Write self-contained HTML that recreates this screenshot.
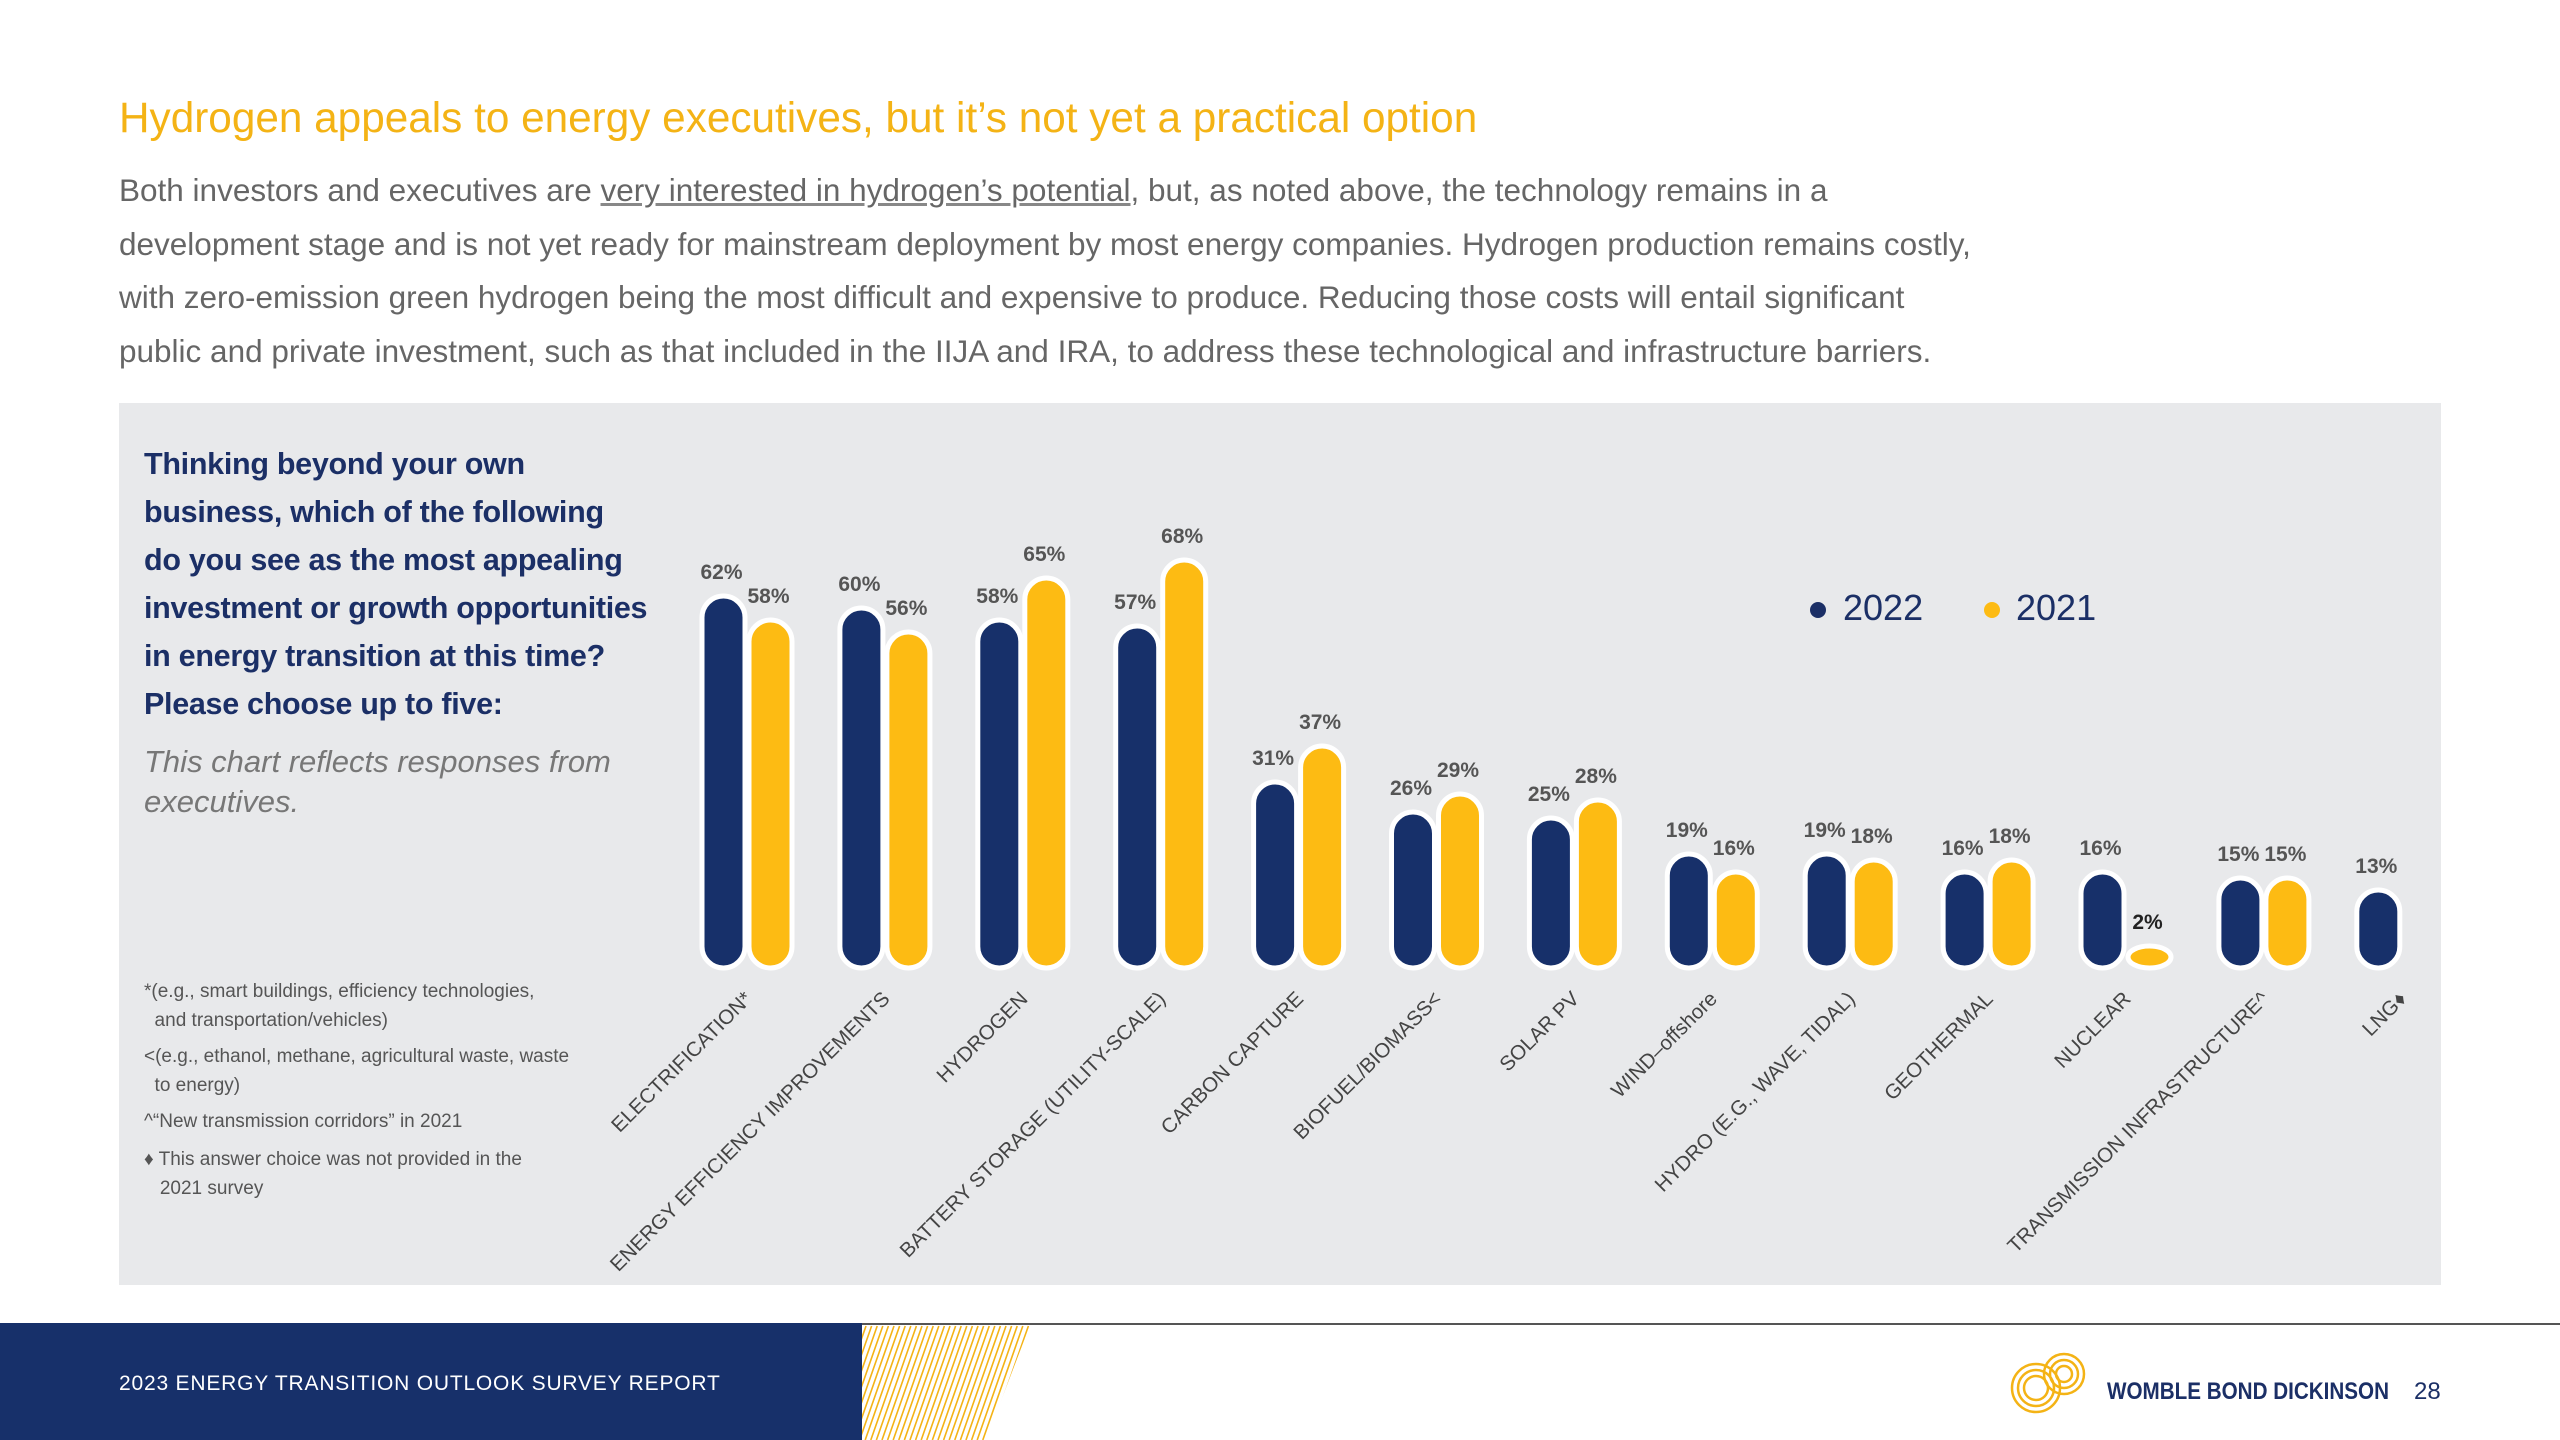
<!DOCTYPE html>
<html><head><meta charset="utf-8">
<style>
html,body{margin:0;padding:0;background:#fff;}
body{width:2560px;height:1440px;overflow:hidden;position:relative;font-family:"Liberation Sans",sans-serif;}
.abs{position:absolute;}
</style></head>
<body>
<div class="abs" style="left:119px;top:94px;font-size:42.3px;color:#F4B315;white-space:nowrap;">Hydrogen appeals to energy executives, but it’s not yet a practical option</div>
<div class="abs" style="left:119px;top:164px;width:2100px;font-size:31.5px;line-height:53.5px;color:#666;white-space:nowrap;">Both investors and executives are <span style="text-decoration:underline;text-decoration-color:#888;">very interested in hydrogen’s potential</span>, but, as noted above, the technology remains in a<br>development stage and is not yet ready for mainstream deployment by most energy companies. Hydrogen production remains costly,<br>with zero-emission green hydrogen being the most difficult and expensive to produce. Reducing those costs will entail significant<br>public and private investment, such as that included in the IIJA and IRA, to address these technological and infrastructure barriers.</div>
<div class="abs" style="left:119px;top:403px;width:2322px;height:882px;background:#E8E9EB;"></div>
<div class="abs" style="left:144px;top:440px;width:560px;font-size:30.5px;line-height:48px;color:#1B2F66;font-weight:bold;letter-spacing:-0.3px;white-space:nowrap;">Thinking beyond your own<br>business, which of the following<br>do you see as the most appealing<br>investment or growth opportunities<br>in energy transition at this time?<br>Please choose up to five:</div>
<div class="abs" style="left:144px;top:742px;width:520px;font-size:31px;line-height:40px;color:#777;font-style:italic;">This chart reflects responses from executives.</div>
<div class="abs" style="left:144px;top:977px;width:460px;font-size:19px;line-height:29px;color:#555;">
<div>*(e.g., smart buildings, efficiency technologies,<br>&nbsp;&nbsp;and transportation/vehicles)</div>
<div style="margin-top:7px">&lt;(e.g., ethanol, methane, agricultural waste, waste<br>&nbsp;&nbsp;to energy)</div>
<div style="margin-top:7px">^“New transmission corridors” in 2021</div>
<div style="margin-top:9px">♦ This answer choice was not provided in the<br>&nbsp;&nbsp;&nbsp;2021 survey</div>
</div>
<svg class="abs" style="left:0;top:0" width="2560" height="1440" id="chart">
<defs><clipPath id="hclip"><polygon points="862,1325 1030,1325 986,1440 862,1440"/></clipPath></defs>
<g id="bars"></g>
<g>
<circle cx="1818" cy="610" r="8" fill="#1B2F66"/>
<text x="1843" y="620" font-size="36" fill="#1B2F66">2022</text>
<circle cx="1992" cy="610" r="8" fill="#FDBB13"/>
<text x="2016" y="620" font-size="36" fill="#1B2F66">2021</text>
</g>
<rect x="0" y="1323" width="862" height="117" fill="#17306A"/>
<line x1="862" y1="1324" x2="2560" y2="1324" stroke="#555" stroke-width="2"/>
<g id="hatch" stroke="#F4B315" stroke-width="1.6" clip-path="url(#hclip)"></g>
<text x="119" y="1390" font-size="21" fill="#fff" letter-spacing="0.8">2023 ENERGY TRANSITION OUTLOOK SURVEY REPORT</text>
<g fill="none" stroke="#F4B315" stroke-width="2.5">
<circle cx="2036" cy="1388" r="12"/><circle cx="2036" cy="1388" r="18"/><circle cx="2036" cy="1388" r="24"/>
<circle cx="2064" cy="1374" r="8"/><circle cx="2064" cy="1374" r="14"/><circle cx="2064" cy="1374" r="20"/>
</g>
<text x="2107" y="1399" font-size="24" font-weight="bold" fill="#1B2F66" textLength="282" lengthAdjust="spacingAndGlyphs">WOMBLE BOND DICKINSON</text>
<text x="2414" y="1399" font-size="24" fill="#1B2F66">28</text>
</svg>
<script>
const categories=["ELECTRIFICATION*","ENERGY EFFICIENCY IMPROVEMENTS","HYDROGEN","BATTERY STORAGE (UTILITY-SCALE)","CARBON CAPTURE","BIOFUEL/BIOMASS<","SOLAR PV","WIND–offshore","HYDRO (E.G., WAVE, TIDAL)","GEOTHERMAL","NUCLEAR","TRANSMISSION INFRASTRUCTURE^","LNG♦"];
const values2022=[62,60,58,57,31,26,25,19,19,16,16,15,13];
const values2021=[58,56,65,68,37,29,28,16,18,18,2,15,null];
const NS="http://www.w3.org/2000/svg";
const baseY=968, pxPer=6.0, x0=702, pitch=137.9, bw=43, gap=4;
const yScale=v=>baseY-v*pxPer;
const xScale=i=>x0+i*pitch;
const g=document.getElementById('bars');
function bar(x,v,color,name,label,bold){
  const top=Math.min(yScale(v),baseY-22);
  const r=document.createElementNS(NS,'rect');
  r.setAttribute('x',x);r.setAttribute('y',top);r.setAttribute('width',bw);r.setAttribute('height',baseY-top);
  r.setAttribute('rx',bw/2);r.setAttribute('ry',Math.min(bw/2,(baseY-top)/2));
  r.setAttribute('fill',color);r.setAttribute('stroke','#fff');r.setAttribute('stroke-width','5');
  
  
  g.appendChild(r);
  const t=document.createElementNS(NS,'text');
  t.setAttribute('x',x+bw/2-2);t.setAttribute('y',top-17);t.setAttribute('text-anchor','middle');
  t.setAttribute('font-size','21');t.setAttribute('font-weight',bold?'bold':'600');t.setAttribute('fill',bold?'#222':'#555');
  t.textContent=label;
  
  
  g.appendChild(t);
}
categories.forEach((c,i)=>{
  const x=xScale(i);
  bar(x,values2022[i],'#17306A','bar-2022-'+i,values2022[i]+'%',false);
  if(values2021[i]!==null) bar(x+bw+gap,values2021[i],'#FDBB13','bar-2021-'+i,values2021[i]+'%',values2021[i]<5);
  const t=document.createElementNS(NS,'text');
  const ax=x+bw+8, ay=1000;
  t.setAttribute('x',ax);t.setAttribute('y',ay);t.setAttribute('text-anchor','end');
  t.setAttribute('transform','rotate(-45 '+ax+' '+ay+')');
  t.setAttribute('font-size','20.5');t.setAttribute('fill','#444');
  t.textContent=c;
  
  
  g.appendChild(t);
});
const h=document.getElementById('hatch');
for(let k=0;k<40;k++){
  const l=document.createElementNS(NS,'line');
  const xt=866+k*5.6;
  l.setAttribute('x1',xt);l.setAttribute('y1',1326);l.setAttribute('x2',xt-40);l.setAttribute('y2',1440);
  
  
  h.appendChild(l);
}
</script>
</body></html>
